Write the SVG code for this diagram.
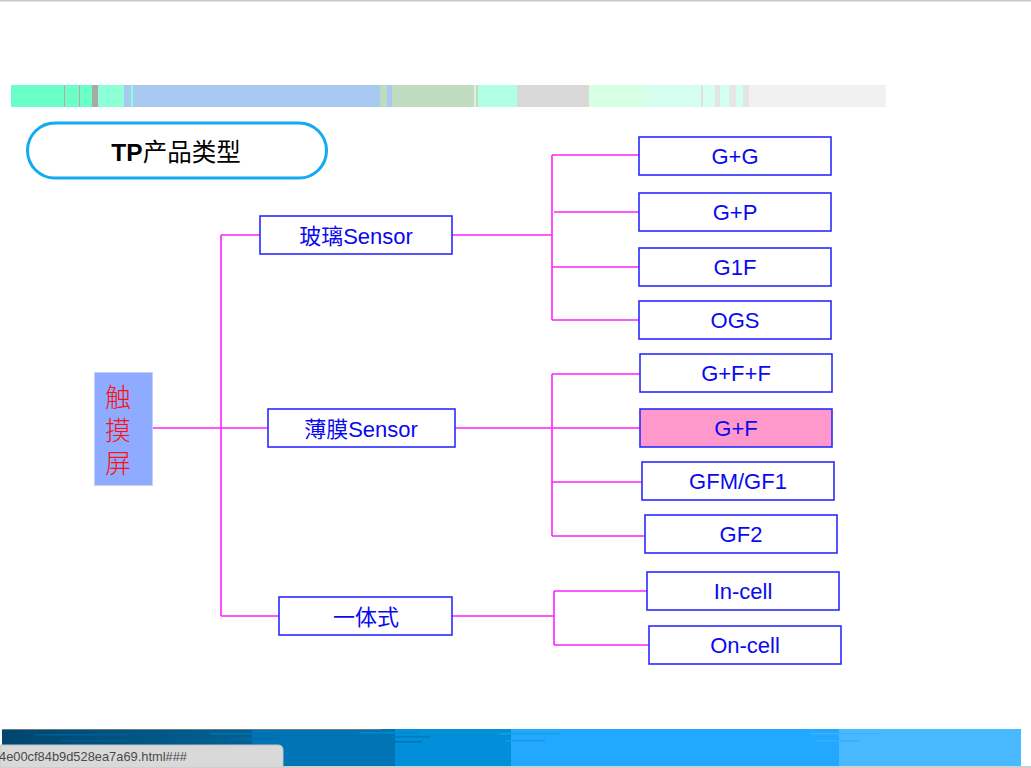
<svg xmlns="http://www.w3.org/2000/svg" width="1031" height="768" viewBox="0 0 1031 768">
<style>
.lbl{font-family:"Liberation Sans","Noto Sans CJK SC",sans-serif;font-size:22px;fill:#0a0aee;text-anchor:middle}
.box{fill:#ffffff;stroke:#2b2bff;stroke-width:1.6}
.con{stroke:#ff22ff;stroke-width:1.6;fill:none}
</style>
<rect x="0" y="0" width="1031" height="768" fill="#ffffff"/>
<rect x="0" y="0" width="1031" height="1.5" fill="#c8c8c8"/>
<g id="colorbar">
<rect x="11" y="85" width="53" height="22" fill="#6bffc8"/>
<rect x="64" y="85" width="1" height="22" fill="#c8a0b0"/>
<rect x="65" y="85" width="14" height="22" fill="#6bffc8"/>
<rect x="79" y="85" width="1" height="22" fill="#c8a0b0"/>
<rect x="80" y="85" width="12" height="22" fill="#6bffc8"/>
<rect x="92" y="85" width="6" height="22" fill="#a8a8a8"/>
<rect x="98" y="85" width="15" height="22" fill="#8cffd6"/>
<rect x="113" y="85" width="11" height="22" fill="#8fffd8"/>
<rect x="124" y="85" width="7" height="22" fill="#a8caf0"/>
<rect x="131" y="85" width="2" height="22" fill="#8cffd6"/>
<rect x="133" y="85" width="247" height="22" fill="#a8caf0"/>
<rect x="380" y="85" width="7" height="22" fill="#c0dcc0"/>
<rect x="387" y="85" width="5" height="22" fill="#a8caf0"/>
<rect x="392" y="85" width="82" height="22" fill="#c0dcc0"/>
<rect x="474" y="85" width="2" height="22" fill="#e0f0e0"/>
<rect x="476" y="85" width="2" height="22" fill="#c0dcc0"/>
<rect x="478" y="85" width="39" height="22" fill="#b0ffe2"/>
<rect x="517" y="85" width="72" height="22" fill="#d9d9d9"/>
<rect x="589" y="85" width="56" height="22" fill="#d6ffe4"/>
<rect x="645" y="85" width="56" height="22" fill="#d4fff0"/>
<rect x="701" y="85" width="2" height="22" fill="#e0e0e0"/>
<rect x="703" y="85" width="12" height="22" fill="#d4fff0"/>
<rect x="715" y="85" width="5" height="22" fill="#e4e4e4"/>
<rect x="720" y="85" width="9" height="22" fill="#d4fff0"/>
<rect x="729" y="85" width="7" height="22" fill="#e6e6e6"/>
<rect x="736" y="85" width="7" height="22" fill="#d4fff0"/>
<rect x="743" y="85" width="6" height="22" fill="#e4e4e4"/>
<rect x="749" y="85" width="137" height="22" fill="#f1f1f1"/>
</g>
<g id="title">
<rect x="27.5" y="123" width="299" height="55" rx="27.5" ry="27.5" fill="#ffffff" stroke="#12aaf2" stroke-width="3"/>
<text x="176" y="160.5" font-family="Liberation Sans,'Noto Sans CJK SC',sans-serif" font-size="24.5" fill="#000000" text-anchor="middle"><tspan font-weight="bold">TP</tspan>产品类型</text>
</g>
<g id="connectors">
<path class="con" d="M153 428H268 M221 235V616 M221 235H260 M221 616H279"/>
<path class="con" d="M452 235H552 M552 155V320 M552 155H639 M554 212H639 M552 267H639 M552 320H639"/>
<path class="con" d="M455 428H552 M552 374V536 M552 374H640 M552 428H640 M552 482H642 M552 536H645"/>
<path class="con" d="M452 616H554 M554 591V645 M554 591H647 M554 645H649"/>
</g>
<g id="root">
<rect x="94.5" y="372.5" width="58" height="113" fill="#8eabff" stroke="#c2d0ff" stroke-width="1"/>
<text x="118" y="384" writing-mode="tb" letter-spacing="7" font-family="'Noto Sans CJK SC',sans-serif" font-weight="300" font-size="26" fill="#ff1010">触摸屏</text>
</g>
<g id="glass-sensor"><rect class="box" x="260" y="216" width="192" height="38"/><text class="lbl" x="356" y="244">玻璃Sensor</text></g>
<g id="film-sensor"><rect class="box" x="268" y="409" width="187" height="38"/><text class="lbl" x="361" y="437">薄膜Sensor</text></g>
<g id="integrated"><rect class="box" x="279" y="597" width="173" height="38"/><text class="lbl" x="366" y="625">一体式</text></g>
<g id="gg"><rect class="box" x="639" y="137" width="192" height="38"/><text class="lbl" x="735" y="164">G+G</text></g>
<g id="gp"><rect class="box" x="639" y="193" width="192" height="38"/><text class="lbl" x="735" y="220">G+P</text></g>
<g id="g1f"><rect class="box" x="639" y="248" width="192" height="38"/><text class="lbl" x="735" y="275">G1F</text></g>
<g id="ogs"><rect class="box" x="639" y="301" width="192" height="38"/><text class="lbl" x="735" y="328">OGS</text></g>
<g id="gff"><rect class="box" x="640" y="354" width="192" height="38"/><text class="lbl" x="736" y="381">G+F+F</text></g>
<g id="gf"><rect class="box" x="640" y="409" width="192" height="38" style="fill:#ff99cc"/><text class="lbl" x="736" y="436">G+F</text></g>
<g id="gfm"><rect class="box" x="642" y="462" width="192" height="38"/><text class="lbl" x="738" y="489">GFM/GF1</text></g>
<g id="gf2"><rect class="box" x="645" y="515" width="192" height="38"/><text class="lbl" x="741" y="542">GF2</text></g>
<g id="incell"><rect class="box" x="647" y="572" width="192" height="38"/><text class="lbl" x="743" y="599">In-cell</text></g>
<g id="oncell"><rect class="box" x="649" y="626" width="192" height="38"/><text class="lbl" x="745" y="653">On-cell</text></g>
<g id="footer">
<defs>
<linearGradient id="dk" x1="0" x2="1" y1="0" y2="0"><stop offset="0" stop-color="#00466e"/><stop offset="1" stop-color="#006296"/></linearGradient>
</defs>
<rect x="2" y="729" width="250" height="37" fill="url(#dk)"/>
<rect x="252" y="729" width="143" height="37" fill="#0074b4"/>
<rect x="395" y="729" width="116" height="37" fill="#008fd8"/>
<rect x="511" y="729" width="328" height="37" fill="#22a8ff"/>
<rect x="839" y="729" width="182" height="37" fill="#48b8ff"/>
<rect x="2" y="729" width="380" height="1" fill="#707880"/>
<rect x="35" y="734" width="95" height="1.5" fill="#005f92"/>
<rect x="60" y="740" width="70" height="1.5" fill="#005a8c"/>
<rect x="210" y="733" width="60" height="1.5" fill="#0070ae"/>
<rect x="230" y="738" width="50" height="1.5" fill="#006aa4"/>
<rect x="360" y="732" width="60" height="1.5" fill="#0088cc"/>
<rect x="390" y="736" width="40" height="1.5" fill="#007cbe"/>
<rect x="392" y="741" width="30" height="1.5" fill="#0070b0"/>
<rect x="500" y="733" width="60" height="1.5" fill="#1a9ee8"/>
<rect x="505" y="740" width="40" height="1.5" fill="#1898e0"/>
<rect x="810" y="733" width="70" height="1.5" fill="#3ab2ff"/>
<rect x="815" y="740" width="45" height="1.5" fill="#36afff"/>
<rect x="283" y="766" width="748" height="2" fill="#cfcfcf"/>
<path d="M0 745H278Q283 745 283 750V768H0Z" fill="#d9d9d9" stroke="#c4c4c4" stroke-width="1"/>
<text x="-1" y="761" font-family="Liberation Sans,sans-serif" font-size="13.5" fill="#4a4a4a" textLength="188" lengthAdjust="spacingAndGlyphs">4e00cf84b9d528ea7a69.html###</text>
</g>
</svg>
